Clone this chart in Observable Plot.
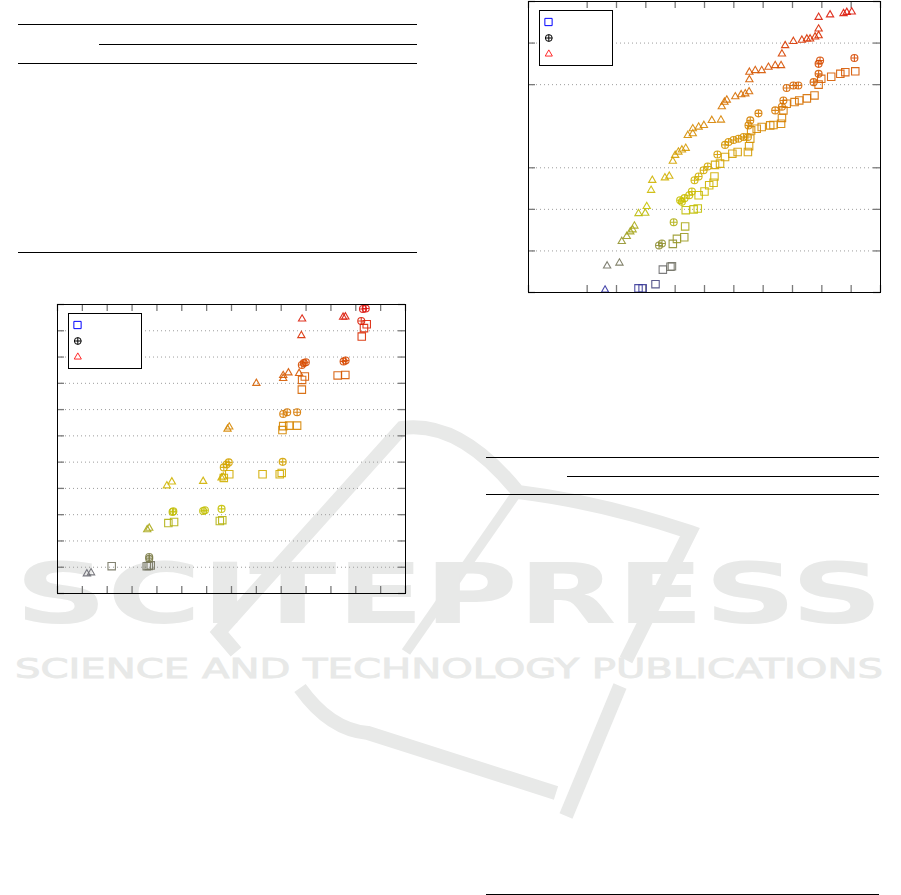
<!DOCTYPE html>
<html><head><meta charset="utf-8">
<script src="https://cdn.jsdelivr.net/npm/d3@7"></script>
<script src="https://cdn.jsdelivr.net/npm/@observablehq/plot@0.6"></script>
<style>
html,body{margin:0;padding:0;background:#fff;}
#page{position:relative;width:901px;height:895px;overflow:hidden;font-family:"DejaVu Sans",sans-serif;background:#fff;}
.rule{position:absolute;height:1px;background:#000;}
.abs{position:absolute;}
.legend{position:absolute;border:1px solid #000;background:#fff;box-sizing:border-box;width:74px;height:56px;}
</style></head><body><div id="page"></div>
<script>
// ---------- data: left chart ----------
const leftXTicks = [0,1,2,3,4,5,6,7,8,9,10,11,12,13,14];
const leftYTicks = [0,1,2,3,4,5,6,7,8,9,10,11];
const leftGrid = [1,2,3,4,5,6,7,8,9,10];
const leftSquares = [[2.18,1.04],[3.59,1.04],[3.67,1.05],[3.75,1.07],[4.46,2.68],[4.69,2.72],[6.53,2.76],[6.63,2.79],[6.69,4.4],[6.91,4.54],[8.25,4.54],[8.94,4.54],[9.02,4.59],[9.05,6.22],[9.08,6.37],[9.32,6.39],[9.64,6.39],[9.83,7.76],[9.84,8.13],[9.95,8.26],[11.27,8.3],[11.58,8.32],[12.24,9.78],[12.33,10.1],[12.44,10.25]];
const leftCirclePlus = [[3.69,1.32],[3.69,1.39],[4.63,3.1],[4.66,3.13],[5.86,3.14],[5.93,3.17],[6.6,3.22],[6.69,4.8],[6.8,4.91],[6.89,4.99],[9.06,5.01],[9.08,6.83],[9.24,6.9],[9.64,6.9],[9.83,8.7],[9.91,8.77],[9.99,8.8],[11.51,8.83],[11.59,8.87],[12.22,10.37],[12.29,10.83],[12.4,10.85]];
const leftTriangles = [[1.18,0.75],[1.35,0.79],[3.61,2.43],[3.69,2.49],[4.4,4.1],[4.6,4.25],[5.86,4.27],[6.6,4.4],[6.67,4.44],[6.84,6.26],[6.91,6.34],[8.0,8.0],[9.08,8.19],[9.08,8.3],[9.29,8.4],[9.72,8.38],[9.81,9.82],[9.84,10.45],[11.49,10.52],[11.58,10.53]];

// ---------- data: right chart ----------
const rightXTicks = [0,2,3,4,5,6,7,8,9,10,11,12];
const rightYTicks = [0,1,2,3,5,6,7];
const rightGrid = [1,2,3,5,6];
const rightSquares = [[3.75,0.1],[3.89,0.1],[4.33,0.2],[4.58,0.55],[4.84,0.62],[4.89,0.63],[4.92,1.17],[5.06,1.29],[5.31,1.33],[5.34,1.59],[5.36,1.98],[5.63,2.0],[5.77,2.02],[5.8,2.34],[6.0,2.43],[6.16,2.58],[6.31,2.64],[6.34,2.79],[6.36,3.07],[6.53,3.1],[6.7,3.26],[6.95,3.34],[7.13,3.38],[7.48,3.38],[7.52,3.52],[7.56,3.7],[7.59,3.9],[7.78,3.94],[7.95,3.98],[8.24,4.02],[8.35,4.03],[8.61,4.06],[8.64,4.2],[8.69,4.38],[8.8,4.54],[9.07,4.58],[9.23,4.62],[9.49,4.67],[9.75,4.74],[9.89,5.0],[9.98,5.14],[10.32,5.19],[10.63,5.26],[10.8,5.3],[11.14,5.32]];
const rightCirclePlus = [[4.45,1.13],[4.55,1.18],[4.95,1.69],[5.17,2.22],[5.23,2.18],[5.32,2.27],[5.48,2.34],[5.57,2.43],[5.66,2.7],[5.8,2.79],[5.97,2.94],[6.11,3.03],[6.44,3.32],[6.7,3.55],[6.82,3.62],[6.99,3.67],[7.16,3.7],[7.33,3.74],[7.48,3.74],[7.5,4.02],[7.56,4.14],[7.84,4.31],[8.41,4.38],[8.64,4.47],[8.69,4.62],[8.8,4.92],[9.03,4.98],[9.2,4.98],[9.72,5.06],[9.89,5.26],[9.89,5.5],[9.94,5.58],[11.11,5.64]];
const rightTriangles = [[2.61,0.06],[2.68,0.64],[3.1,0.71],[3.18,1.23],[3.35,1.35],[3.47,1.46],[3.55,1.51],[3.61,1.6],[3.75,1.9],[3.98,1.91],[4.03,2.07],[4.18,2.46],[4.22,2.7],[4.65,2.76],[4.8,2.8],[4.92,3.16],[5.0,3.3],[5.11,3.38],[5.23,3.43],[5.36,3.47],[5.43,3.78],[5.6,3.82],[5.6,3.94],[5.8,3.98],[5.98,4.02],[6.25,4.14],[6.56,4.15],[6.59,4.47],[6.68,4.58],[6.76,4.63],[7.05,4.71],[7.25,4.76],[7.39,4.78],[7.52,4.83],[7.53,5.12],[7.53,5.3],[7.73,5.34],[7.95,5.34],[8.18,5.42],[8.41,5.46],[8.61,5.46],[8.64,5.74],[8.75,5.94],[9.03,6.04],[9.32,6.07],[9.49,6.1],[9.6,6.1],[9.77,6.15],[9.89,6.18],[9.89,6.34],[9.89,6.62],[10.28,6.68],[10.74,6.71],[10.85,6.74],[11.02,6.75]];

// colour ramp (fraction of y range -> colour)
const rampStops = [0, 0.035, 0.08, 0.12, 0.2, 0.3, 0.45, 0.6, 0.75, 0.88, 1];
const rampColors = ["#2a2ab0","#505078","#707070","#7a7a4a","#a0a020","#c8c400","#d4a400","#d68000","#d65a00","#d83000","#dd1010"];

// table rules [left, top, width]
const tableRules = [[18,24,399],[99,44,318],[18,63,399],[18,252,399],[486,457,393],[567,476,312],[486,494,393],[486,894,393]];

// ---------- helpers ----------
const circlePlus = {draw(ctx, size){const r=Math.sqrt(size/Math.PI);ctx.moveTo(r,0);ctx.arc(0,0,r,0,2*Math.PI);ctx.moveTo(-r,0);ctx.lineTo(r,0);ctx.moveTo(0,-r);ctx.lineTo(0,r);}};
const page = document.getElementById("page");

// watermark
const wm = `<svg class="abs" style="left:0;top:0" width="901" height="895" xmlns="http://www.w3.org/2000/svg">
<g fill="none" stroke="#e8e9e8" stroke-linejoin="miter">
<path d="M236,652 L219,632 L402,428 Q460,420 518,492 Q600,502 690,532 L626,660" stroke-width="14"/>
<path d="M516,494 L406,652" stroke-width="10"/>
<path d="M300,688 Q330,730 368,733 L556,793" stroke-width="14"/>
<path d="M620,686 L566,816" stroke-width="14"/>
</g>
<text x="15" y="623" font-family="DejaVu Sans" font-weight="bold" font-size="84" fill="#e8e9e8" textLength="868" lengthAdjust="spacingAndGlyphs">SCITEPRESS</text>
<text x="15" y="678" font-family="DejaVu Sans" font-size="26" fill="#e8e9e8" stroke="#e8e9e8" stroke-width="0.8" textLength="868" lengthAdjust="spacingAndGlyphs">SCIENCE AND TECHNOLOGY PUBLICATIONS</text>
</svg>`;
page.insertAdjacentHTML("beforeend", wm);

for (const [l,t,w] of tableRules) {
  const d = document.createElement("div");
  d.className = "rule"; d.style.left = l+"px"; d.style.top = t+"px"; d.style.width = w+"px";
  page.appendChild(d);
}

function makeChart({xMax, yMax, xTicks, yTicks, grid, squares, circles, triangles, width, height}) {
  const m = 7, iw = width - 2*m, ih = height - 2*m, tk = 7;
  const col = d => d[1] / yMax;
  const common = {x: d => d[0], y: d => d[1], stroke: col, fill: "none", strokeWidth: 1.1, strokeOpacity: 0.9};
  return Plot.plot({
    width, height, margin: m,
    x: {domain: [0, xMax], axis: null},
    y: {domain: [0, yMax], axis: null},
    color: {type: "linear", domain: rampStops, range: rampColors, clamp: true},
    style: {background: "transparent", overflow: "visible"},
    marks: [
      Plot.ruleY(grid, {y: d => d, stroke: "#9c9c9c", strokeWidth: 1, strokeDasharray: "1,3"}),
      Plot.tickX(xTicks, {x: d => d, insetTop: ih - tk, stroke: "#7a7a7a", strokeWidth: 1.3}),
      Plot.tickX(xTicks, {x: d => d, insetBottom: ih - tk, stroke: "#7a7a7a", strokeWidth: 1.3}),
      Plot.tickY(yTicks, {y: d => d, insetRight: iw - tk, stroke: "#7a7a7a", strokeWidth: 1.3}),
      Plot.tickY(yTicks, {y: d => d, insetLeft: iw - tk, stroke: "#7a7a7a", strokeWidth: 1.3}),
      Plot.dot(squares, {...common, symbol: "square", r: 4.2}),
      Plot.dot(circles, {...common, symbol: circlePlus, r: 3.5}),
      Plot.dot(triangles, {...common, symbol: "triangle", r: 2.7}),
      Plot.frame({stroke: "#000", strokeWidth: 1})
    ]
  });
}

function place(el, left, top) {
  el.style.position = "absolute"; el.style.left = left + "px"; el.style.top = top + "px";
  page.appendChild(el);
}

place(makeChart({xMax: 14, yMax: 11, xTicks: leftXTicks, yTicks: leftYTicks, grid: leftGrid,
  squares: leftSquares, circles: leftCirclePlus, triangles: leftTriangles, width: 362, height: 303}), 50, 297);
place(makeChart({xMax: 12, yMax: 7, xTicks: rightXTicks, yTicks: rightYTicks, grid: rightGrid,
  squares: rightSquares, circles: rightCirclePlus, triangles: rightTriangles, width: 366, height: 305}), 521, -6);

function legend(left, top) {
  const div = document.createElement("div");
  div.className = "legend"; div.style.left = left + "px"; div.style.top = top + "px";
  const sq = d3.symbol(d3.symbolSquare, 52.8)();
  const cp = d3.symbol(circlePlus, Math.PI*3.4*3.4)();
  const tr = d3.symbol(d3.symbolTriangle, 22)();
  div.innerHTML = `<svg width="72" height="54" style="position:absolute;left:0;top:0">
    <path d="${sq}" transform="translate(8.5,11)" fill="none" stroke="#0000ff" stroke-width="1"/>
    <path d="${cp}" transform="translate(8.8,27)" fill="none" stroke="#000" stroke-width="1"/>
    <path d="${tr}" transform="translate(8.8,43)" fill="none" stroke="#ff2a2a" stroke-width="1"/>
  </svg>`;
  page.appendChild(div);
}
legend(68, 313);
legend(539, 10);
</script>
</body></html>
